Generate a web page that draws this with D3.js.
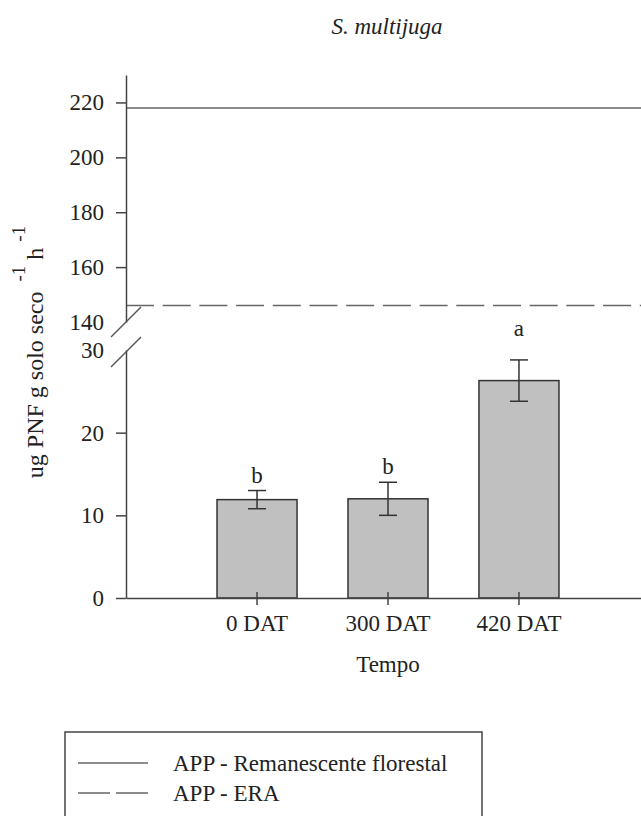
<!DOCTYPE html>
<html>
<head>
<meta charset="utf-8">
<script src="https://cdn.jsdelivr.net/npm/d3@7"></script>
<style>
  body { margin: 0; background: #fff; }
  svg { display: block; }
  svg text { font-family: 'Liberation Serif', 'Times New Roman', serif; }
</style>
</head>
<body>
<svg id="chart"></svg>
<script>
// data
const categories = ["0 DAT", "300 DAT", "420 DAT"];
const means = [11.9, 12.0, 26.3];
const errors = [1.1, 2.0, 2.5];
const letters = ["b", "b", "a"];

const refLabels = ["APP - Remanescente florestal", "APP - ERA"];
const refValues = [218, 146];

const upperTicks = [140, 160, 180, 200, 220];
const lowerTicks = [0, 10, 20, 30];

const width = 641, height = 816;
const axisX = 126;
const fontSize = 23;
const serif = "'Liberation Serif', 'Times New Roman', serif";
const ink = "#222";

const svg = d3.select("#chart")
    .attr("width", width)
    .attr("height", height);

// broken y axis: two linear pieces
const yHigh = d3.scaleLinear().domain([140, 230]).range([322, 75]);
const yLow = d3.scaleLinear().domain([0, 30]).range([598, 350]);

const x = d3.scaleBand()
    .domain(categories)
    .range([axisX, 650])
    .paddingInner(0.389)
    .paddingOuter(0.695);

// title
svg.append("text")
    .attr("x", 387)
    .attr("y", 34)
    .attr("text-anchor", "middle")
    .style("font-family", serif)
    .style("font-style", "italic")
    .style("font-size", fontSize + "px")
    .style("fill", ink)
    .text("S. multijuga");

// reference lines (upper segment)
const dashes = [null, "28,8.7"];
svg.selectAll(".ref")
    .data(refValues)
    .enter()
    .append("line")
    .attr("class", "ref")
    .attr("x1", axisX)
    .attr("x2", width)
    .attr("y1", d => yHigh(d))
    .attr("y2", d => yHigh(d))
    .attr("stroke", "#666")
    .attr("stroke-width", 1.5)
    .attr("stroke-dasharray", (d, i) => dashes[i]);

// bars
svg.selectAll(".bar")
    .data(means)
    .enter()
    .append("rect")
    .attr("class", "bar")
    .attr("x", (d, i) => x(categories[i]))
    .attr("width", x.bandwidth())
    .attr("y", d => yLow(d))
    .attr("height", d => yLow(0) - yLow(d))
    .attr("fill", "#c0c0c0")
    .attr("stroke", "#333")
    .attr("stroke-width", 1.5);

// error bars + significance letters
const errG = svg.append("g").attr("stroke", "#333").attr("stroke-width", 1.5);
means.forEach((m, i) => {
    const cx = x(categories[i]) + x.bandwidth() / 2;
    const top = yLow(m + errors[i]), bot = yLow(m - errors[i]);
    errG.append("line").attr("x1", cx).attr("x2", cx).attr("y1", top).attr("y2", bot);
    errG.append("line").attr("x1", cx - 9).attr("x2", cx + 9).attr("y1", top).attr("y2", top);
    errG.append("line").attr("x1", cx - 9).attr("x2", cx + 9).attr("y1", bot).attr("y2", bot);

    svg.append("text")
        .attr("x", cx)
        .attr("y", top - (letters[i] === "a" ? 24 : 8))
        .attr("text-anchor", "middle")
        .style("font-size", fontSize + "px")
        .style("fill", ink)
        .text(letters[i]);
});

// x axis
const xAxis = svg.append("g")
    .attr("transform", `translate(0, ${yLow(0)})`)
    .call(d3.axisBottom(x).tickSize(7).tickSizeOuter(0).tickPadding(10))
    .attr("font-family", null)
    .attr("font-size", null);
xAxis.select(".domain").attr("stroke", "#444").attr("stroke-width", 1.5);
xAxis.selectAll(".tick line").attr("stroke", "#444").attr("stroke-width", 1.5).attr("y1", -6);
xAxis.selectAll(".tick text")
    .style("font-size", fontSize + "px")
    .style("font-family", serif)
    .style("fill", ink);

svg.append("text")
    .attr("x", x("300 DAT") + x.bandwidth() / 2)
    .attr("y", 672)
    .attr("text-anchor", "middle")
    .style("font-size", fontSize + "px")
    .style("fill", ink)
    .text("Tempo");

// y axes
const styleAxis = (g, breakValue) => {
    g.attr("font-family", null).attr("font-size", null);
    g.select(".domain").attr("stroke", "#444").attr("stroke-width", 1.5);
    g.selectAll(".tick line").attr("stroke", "#444").attr("stroke-width", 1.5);
    g.selectAll(".tick").filter(d => d === breakValue).select("line").remove();
    g.selectAll(".tick text")
        .style("font-size", fontSize + "px")
        .style("font-family", serif)
        .style("fill", ink);
};

svg.append("g")
    .attr("transform", `translate(${axisX}, 0)`)
    .call(d3.axisLeft(yHigh).tickValues(upperTicks).tickSize(10).tickPadding(12).tickSizeOuter(0))
    .call(g => styleAxis(g, 140));

svg.append("g")
    .attr("transform", `translate(${axisX}, 0)`)
    .call(d3.axisLeft(yLow).tickValues(lowerTicks).tickSize(10).tickPadding(12).tickSizeOuter(0))
    .call(g => styleAxis(g, 30));

// break marks
[yHigh(140), yLow(30) + 2].forEach(yc => {
    svg.append("line")
        .attr("x1", axisX - 15).attr("y1", yc + 15)
        .attr("x2", axisX + 15).attr("y2", yc - 15)
        .attr("stroke", "#555")
        .attr("stroke-width", 1.5);
});

// y label with superscripts
const yLabel = svg.append("text")
    .attr("transform", "translate(43, 352) rotate(-90)")
    .attr("text-anchor", "middle")
    .style("font-size", "24px")
    .style("fill", ink);
yLabel.append("tspan").text("ug PNF g solo seco");
yLabel.append("tspan").attr("dx", 10).attr("dy", -18).style("font-size", "19px").text("-1");
yLabel.append("tspan").attr("dx", 6).attr("dy", 18).text("h");
yLabel.append("tspan").attr("dx", 6).attr("dy", -18).style("font-size", "19px").text("-1");

// legend
const legend = svg.append("g");
legend.append("rect")
    .attr("x", 65).attr("y", 732)
    .attr("width", 417).attr("height", 120)
    .attr("fill", "none")
    .attr("stroke", "#444")
    .attr("stroke-width", 1.5);

const legendDashes = [null, "32,6"];
refLabels.forEach((lab, i) => {
    const ly = 763 + i * 30;
    legend.append("line")
        .attr("x1", 78).attr("x2", 148)
        .attr("y1", ly).attr("y2", ly)
        .attr("stroke", "#666")
        .attr("stroke-width", 1.5)
        .attr("stroke-dasharray", legendDashes[i]);
    legend.append("text")
        .attr("x", 173)
        .attr("y", ly + 8)
        .style("font-size", fontSize + "px")
        .style("fill", ink)
        .text(lab);
});
</script>
</body>
</html>
